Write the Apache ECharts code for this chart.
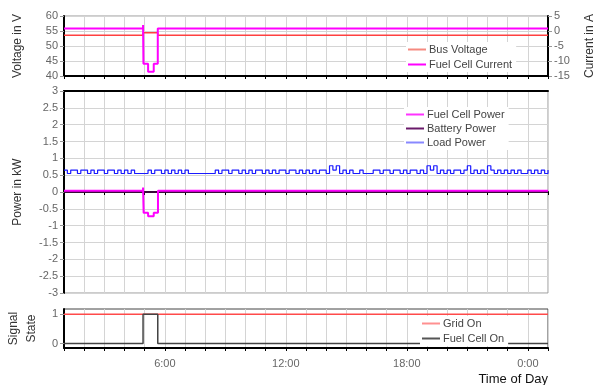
<!DOCTYPE html>
<html><head><meta charset="utf-8">
<script src="https://cdn.jsdelivr.net/npm/echarts@6/dist/echarts.min.js"></script>
<style>html,body{margin:0;padding:0;background:#fff}#c{width:603px;height:385px}</style>
</head><body><div id="c"></div>
<script>
// Time in hours (1 = 1:00, 25 = 1:00 next day)
var busVoltageTime = [1, 4.92, 5.65, 25];
var busVoltage     = [53.6, 54.4, 53.6, 53.6];
var fcCurrentTime  = [1, 4.92, 4.94, 5.17, 5.45, 5.65, 25];
var fcCurrent      = [0.8, 2.0, -10.9, -13.6, -10.9, 0.8, 0.8];

var fcPowerTime    = [1, 4.92, 4.95, 5.17, 5.45, 5.66, 25];
var fcPower        = [0.04, 0.13, -0.62, -0.72, -0.62, 0.04, 0.04];
var batteryTime    = [1, 25];
var batteryPower   = [0, 0];
// Load power, 10-minute steps from 1:00 to 1:00 next day
var loadPower = [
 0.65,0.55,0.65,0.65,0.55,0.65, 0.65,0.55,0.65,0.55,0.65,0.65,
 0.55,0.65,0.65,0.55,0.65,0.55, 0.65,0.55,0.65,0.55,0.55,0.55,
 0.55,0.65,0.55,0.65,0.65,0.55, 0.65,0.55,0.65,0.55,0.65,0.55,
 0.65,0.55,0.55,0.55,0.55,0.55, 0.55,0.55,0.55,0.65,0.55,0.65,
 0.65,0.55,0.65,0.65,0.55,0.65, 0.55,0.65,0.55,0.65,0.65,0.55,
 0.65,0.55,0.65,0.55,0.65,0.65, 0.55,0.65,0.65,0.55,0.65,0.55,
 0.65,0.55,0.65,0.55,0.65,0.65, 0.55,0.78,0.65,0.78,0.55,0.65,
 0.55,0.65,0.55,0.55,0.65,0.55, 0.55,0.55,0.65,0.65,0.55,0.65,
 0.65,0.55,0.65,0.65,0.55,0.65, 0.55,0.65,0.65,0.55,0.65,0.55,
 0.78,0.65,0.78,0.55,0.65,0.55, 0.65,0.55,0.65,0.65,0.55,0.65,
 0.78,0.55,0.65,0.55,0.65,0.55, 0.78,0.65,0.55,0.65,0.55,0.65,
 0.55,0.65,0.55,0.65,0.55,0.55, 0.65,0.55,0.65,0.55,0.65,0.55,
 0.65];
var loadStepMinutes = 10;

var gridOnTime  = [1, 25];
var gridOn      = [1, 1];
var fcOnTime    = [1, 4.92, 5.65, 25];
var fcOn        = [0, 1, 0, 0];

var signalTicks = [0, 1];

function pairs(t, v) { return t.map(function (x, i) { return [x, v[i]]; }); }
function loadPairs() { return loadPower.map(function (v, i) { return [1 + i * loadStepMinutes / 60, v]; }); }

var FONT = 'Liberation Sans';
var gridLine = { show: true, lineStyle: { color: '#d4d4d4', width: 1 } };
function xAx(gi, opts) {
  var o = {
    type: 'value', gridIndex: gi, min: 1, max: 25, interval: 1,
    splitLine: gridLine,
    axisLine: { show: true, onZero: false, lineStyle: { color: '#000', width: 2 } },
    axisTick: { show: true, length: 3, lineStyle: { color: '#000' } },
    axisLabel: { show: false }
  };
  for (var k in opts) o[k] = opts[k];
  return o;
}
var yLabel = { color: '#666', fontSize: 11, fontFamily: FONT, margin: 6 };
var yTick = { show: true, length: 4, lineStyle: { color: '#999' } };
var gridBase = { left: 64, right: 55, show: true, containLabel: false, outerBoundsMode: 'none' };
function g(o) { var r = {}; for (var k in gridBase) r[k] = gridBase[k]; for (var k2 in o) r[k2] = o[k2]; return r; }

var chart = echarts.init(document.getElementById('c'), null, { renderer: 'canvas' });
chart.setOption({
  animation: false,
  textStyle: { fontFamily: FONT },
  grid: [
    g({ top: 16, height: 60, borderColor: '#999', borderWidth: 1 }),
    g({ top: 91, height: 202, borderColor: '#999', borderWidth: 1 }),
    g({ top: 309, height: 39, borderColor: '#444', borderWidth: 1 })
  ],
  xAxis: [
    xAx(0, {}),
    xAx(1, { axisLine: { show: true, onZero: true, lineStyle: { color: '#000', width: 2 } } }),
    xAx(2, {
      axisLabel: {
        show: true, color: '#666', fontSize: 11, fontFamily: FONT, margin: 10,
        formatter: function (v) { return (v % 6 === 0) ? (v % 24) + ':00' : ''; }
      },
      name: 'Time of Day', nameLocation: 'end', nameGap: 0,
      nameTextStyle: { color: '#111', fontSize: 13, fontFamily: FONT, align: 'right', verticalAlign: 'top', padding: [25, 0, 0, 0] }
    }),
    xAx(1, { splitLine: { show: false }, axisTick: { show: false } })
  ],
  yAxis: [
    { type: 'value', gridIndex: 0, min: 40, max: 60, interval: 5, position: 'left',
      splitLine: gridLine, axisLine: { show: true, lineStyle: { color: '#000', width: 2 } },
      axisTick: yTick, axisLabel: yLabel,
      name: 'Voltage in V', nameLocation: 'middle', nameRotate: 90, nameGap: 40,
      nameTextStyle: { color: '#333', fontSize: 12, fontFamily: FONT } },
    { type: 'value', gridIndex: 0, min: -15, max: 5, interval: 5, position: 'right',
      splitLine: { show: false }, axisLine: { show: true, lineStyle: { color: '#000', width: 2 } },
      axisTick: yTick, axisLabel: yLabel,
      name: 'Current in A', nameLocation: 'middle', nameRotate: 90, nameGap: 36,
      nameTextStyle: { color: '#333', fontSize: 12, fontFamily: FONT } },
    { type: 'value', gridIndex: 1, min: -3, max: 3, interval: 0.5,
      splitLine: gridLine, axisLine: { show: true, lineStyle: { color: '#000', width: 2 } },
      axisTick: yTick, axisLabel: yLabel,
      name: 'Power in kW', nameLocation: 'middle', nameRotate: 90, nameGap: 40,
      nameTextStyle: { color: '#333', fontSize: 12, fontFamily: FONT } },
    { type: 'value', gridIndex: 2, min: -0.15, max: 1.18,
      splitLine: { show: false }, axisLine: { show: true, lineStyle: { color: '#000', width: 2 } },
      axisTick: { show: true, length: 4, lineStyle: { color: '#999' }, customValues: signalTicks },
      axisLabel: { color: '#666', fontSize: 11, fontFamily: FONT, margin: 6, customValues: signalTicks },
      name: 'Signal\nState', nameLocation: 'middle', nameRotate: 90, nameGap: 21,
      nameTextStyle: { color: '#333', fontSize: 12, fontFamily: FONT, lineHeight: 18 } }
  ],
  legend: [
    { left: 406, top: 42, orient: 'vertical', itemGap: 4, itemWidth: 18, itemHeight: 2, icon: 'rect',
      backgroundColor: '#fff', padding: [2, 4, 2, 2],
      textStyle: { color: '#444', fontSize: 11, fontFamily: FONT, padding: [0, 0, 0, -2] },
      data: [{ name: 'Bus Voltage', itemStyle: { color: '#f58a80' } },
             { name: 'Fuel Cell Current', itemStyle: { color: '#ff00ff' } }] },
    { left: 404, top: 107, orient: 'vertical', itemGap: 3, itemWidth: 18, itemHeight: 2, icon: 'rect',
      backgroundColor: '#fff', padding: [2, 4, 2, 2],
      textStyle: { color: '#444', fontSize: 11, fontFamily: FONT, padding: [0, 0, 0, -2] },
      data: [{ name: 'Fuel Cell Power', itemStyle: { color: '#ff33ff' } },
             { name: 'Battery Power', itemStyle: { color: '#6a1a6a' } },
             { name: 'Load Power', itemStyle: { color: '#8888ff' } }] },
    { left: 420, top: 316, orient: 'vertical', itemGap: 4, itemWidth: 18, itemHeight: 2, icon: 'rect',
      backgroundColor: '#fff', padding: [2, 4, 2, 2],
      textStyle: { color: '#444', fontSize: 11, fontFamily: FONT, padding: [0, 0, 0, -2] },
      data: [{ name: 'Grid On', itemStyle: { color: '#ff9090' } },
             { name: 'Fuel Cell On', itemStyle: { color: '#555' } }] }
  ],
  series: [
    { name: 'Bus Voltage', type: 'line', xAxisIndex: 0, yAxisIndex: 0, step: 'end', showSymbol: false,
      data: pairs(busVoltageTime, busVoltage), lineStyle: { color: '#ff4040', width: 1.5 }, itemStyle: { color: '#ff4040' } },
    { name: 'Fuel Cell Current', type: 'line', xAxisIndex: 0, yAxisIndex: 1, step: 'end', showSymbol: false,
      data: pairs(fcCurrentTime, fcCurrent), lineStyle: { color: '#ff00ff', width: 2 }, itemStyle: { color: '#ff00ff' } },
    { name: 'Load Power', type: 'line', xAxisIndex: 1, yAxisIndex: 2, step: 'end', showSymbol: false,
      data: loadPairs(), lineStyle: { color: '#1a1aff', width: 1.2 }, itemStyle: { color: '#1a1aff' } },
    { name: 'Battery Power', type: 'line', xAxisIndex: 1, yAxisIndex: 2, step: 'end', showSymbol: false,
      data: pairs(batteryTime, batteryPower), lineStyle: { color: '#3a0a3a', width: 2 }, itemStyle: { color: '#3a0a3a' } },
    { name: 'Fuel Cell Power', type: 'line', xAxisIndex: 1, yAxisIndex: 2, step: 'end', showSymbol: false,
      data: pairs(fcPowerTime, fcPower), lineStyle: { color: '#ff00ff', width: 2 }, itemStyle: { color: '#ff00ff' } },
    { name: 'Grid On', type: 'line', xAxisIndex: 2, yAxisIndex: 3, step: 'end', showSymbol: false,
      data: pairs(gridOnTime, gridOn), lineStyle: { color: '#ff4a4a', width: 1.5 }, itemStyle: { color: '#ff4a4a' } },
    { name: 'Fuel Cell On', type: 'line', xAxisIndex: 2, yAxisIndex: 3, step: 'end', showSymbol: false,
      data: pairs(fcOnTime, fcOn), lineStyle: { color: '#444', width: 1.5 }, itemStyle: { color: '#444' } }
  ]
});
</script>
</body></html>
